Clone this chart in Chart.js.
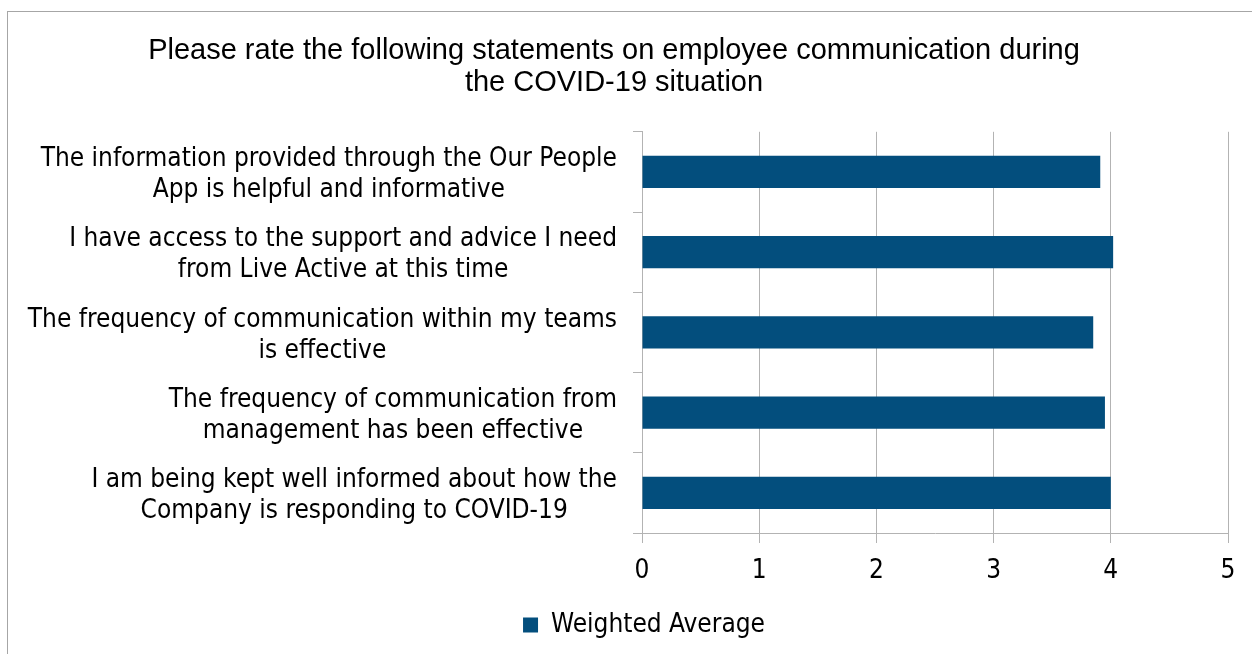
<!DOCTYPE html>
<html>
<head>
<meta charset="utf-8">
<title>Employee communication during COVID-19</title>
<script src="https://cdn.jsdelivr.net/npm/chart.js@4/dist/chart.umd.min.js"></script>
<style>
  html, body { margin: 0; padding: 0; background: #fff; }
  #wrap { position: relative; width: 1252px; height: 654px; }
</style>
</head>
<body>
<div id="wrap"><canvas id="chart" width="1252" height="654"></canvas></div>
<script>
var titleLines = [
  'Please rate the following statements on employee communication during',
  'the COVID-19 situation'
];
var statements = [
  ['The information provided through the Our People', 'App is helpful and informative'],
  ['I have access to the support and advice I need', 'from Live Active at this time'],
  ['The frequency of communication within my teams', 'is effective'],
  ['The frequency of communication from', 'management has been effective'],
  ['I am being kept well informed about how the', 'Company is responding to COVID-19']
];
var weightedAverage = [3.91, 4.02, 3.85, 3.95, 4.00];
var xTicks = [0, 1, 2, 3, 4, 5];

var barColor = '#034e7d';
var gridColor = '#b3b3b3';
var labelFont = '"DejaVu Sans Condensed", "DejaVu Sans", sans-serif';

// outer frame of the chart object
var framePlugin = {
  id: 'frame',
  beforeDraw: function (chart) {
    var ctx = chart.ctx;
    ctx.save();
    ctx.fillStyle = '#fff';
    ctx.fillRect(0, 0, chart.width, chart.height);
    ctx.strokeStyle = '#a6a6a6';
    ctx.lineWidth = 1;
    ctx.strokeRect(7.5, 11.5, chart.width + 20, chart.height + 20);
    ctx.restore();
  }
};

// category text: block right-aligned against the axis, lines centred inside the block
var statementLabels = {
  id: 'statementLabels',
  afterDraw: function (chart) {
    var ctx = chart.ctx;
    var yScale = chart.scales.y;
    var right = yScale.right - 25;
    var lineH = 31;
    ctx.save();
    ctx.font = '26px ' + labelFont;
    ctx.fillStyle = '#000';
    ctx.textAlign = 'center';
    ctx.textBaseline = 'middle';
    statements.forEach(function (lines, i) {
      var y = yScale.getPixelForValue(i) + 3;
      var w = 0;
      lines.forEach(function (t) { w = Math.max(w, ctx.measureText(t).width); });
      var cx = right - w / 2;
      lines.forEach(function (t, j) {
        ctx.fillText(t, cx, y + (j - (lines.length - 1) / 2) * lineH);
      });
    });
    ctx.restore();
  }
};

// move the legend so it sits under the plot the way the original does
var legendShift = {
  id: 'legendShift',
  afterLayout: function (chart) {
    var lg = chart.legend;
    lg.left += 30;
    lg.right += 30;
  }
};

var ctx = document.getElementById('chart');
var myChart = new Chart(ctx, {
  type: 'bar',
  data: {
    labels: statements.map(function (s) { return s.join(' '); }),
    datasets: [{
      label: 'Weighted Average',
      data: weightedAverage,
      backgroundColor: barColor,
      borderWidth: 0,
      categoryPercentage: 1,
      barPercentage: 0.4
    }]
  },
  options: {
    indexAxis: 'y',
    responsive: false,
    animation: false,
    devicePixelRatio: 1,
    layout: { padding: { left: 0, right: 24, top: 0, bottom: 6 } },
    scales: {
      x: {
        min: 0,
        max: 5,
        afterBuildTicks: function (scale) {
          scale.ticks = xTicks.map(function (v) { return { value: v }; });
        },
        afterFit: function (scale) { scale.height = 69; },
        grid: { color: gridColor, lineWidth: 1, tickLength: 10 },
        border: { color: gridColor, width: 1 },
        ticks: {
          color: '#000',
          padding: 13,
          font: { family: labelFont, size: 26 }
        }
      },
      y: {
        afterFit: function (scale) { scale.width = 642; },
        grid: {
          offset: true,
          drawOnChartArea: false,
          color: gridColor,
          tickLength: 9
        },
        border: { color: gridColor, width: 1 },
        ticks: { display: false }
      }
    },
    plugins: {
      title: {
        display: true,
        text: titleLines,
        color: '#000',
        font: { family: '"Liberation Sans", Arial, sans-serif', size: 29, weight: 'normal', lineHeight: 1.1 },
        padding: { top: 35, bottom: 33 }
      },
      legend: {
        display: true,
        position: 'bottom',
        labels: {
          color: '#000',
          boxWidth: 15,
          boxHeight: 15,
          padding: 10,
          font: { family: labelFont, size: 26 }
        }
      },
      tooltip: { enabled: false }
    }
  },
  plugins: [framePlugin, statementLabels, legendShift]
});
</script>
</body>
</html>
